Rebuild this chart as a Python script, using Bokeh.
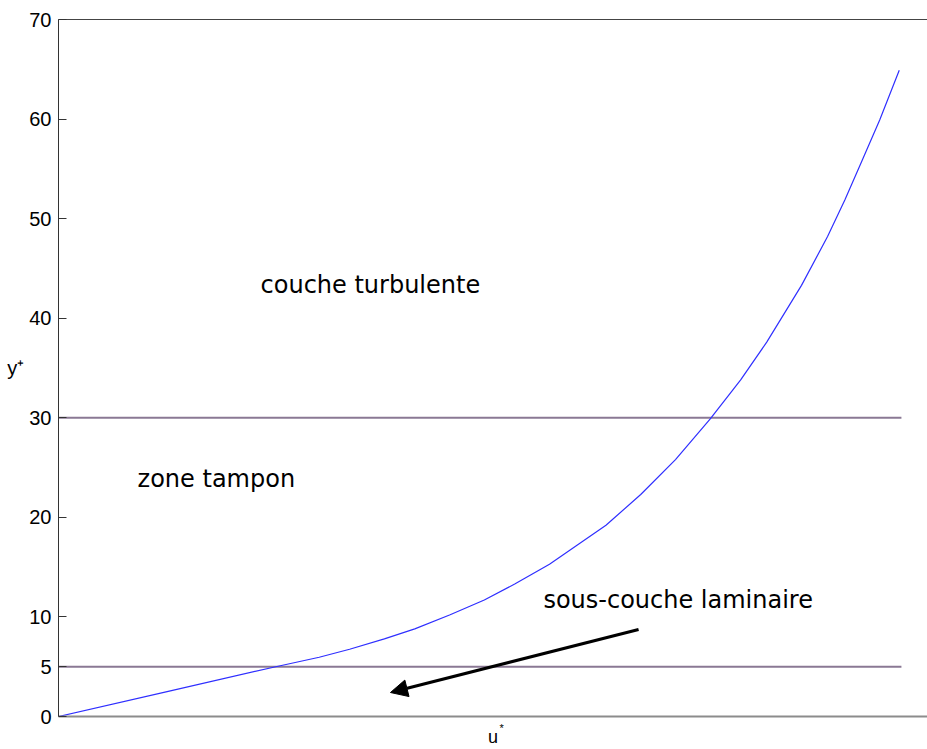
from bokeh.plotting import figure
from bokeh.models import (Range1d, FixedTicker, LinearAxis, Label, Arrow, NormalHead)
from bokeh.embed import file_html
from bokeh.resources import INLINE

# Curve (u*, y+)
u_vals = [0.0, 2.5, 5.0, 6.0, 6.7, 7.5, 8.2, 9.0, 9.8, 10.5, 11.3, 12.0, 12.6, 13.4, 14.2,
          15.0, 15.7, 16.3, 17.1, 17.7, 18.1, 18.5, 18.9, 19.35]
y_vals = [0.0, 2.5, 5.0, 5.95, 6.75, 7.8, 8.8, 10.2, 11.7, 13.3, 15.3, 17.4, 19.2, 22.3, 25.8,
          29.9, 33.8, 37.6, 43.3, 48.2, 51.9, 55.9, 59.9, 64.9]

# Horizontal zone limits
limits = [5, 30]
limit_u_end = 19.4

y_ticks = [0, 5, 10, 20, 30, 40, 50, 60, 70]

zone_labels = ["couche turbulente", "zone tampon", "sous-couche laminaire"]
zone_u = [4.65, 1.82, 11.16]
zone_y = [43.3, 23.9, 11.7]

arrow_start = (13.35, 8.74)
arrow_end = (7.64, 2.41)

star_u = 10.2

p = figure(width=927, height=749, output_backend="svg", toolbar_location=None,
           x_range=Range1d(0, 20), y_range=Range1d(0, 70),
           min_border_left=58, min_border_right=0, min_border_top=19, min_border_bottom=33,
           x_axis_type=None, y_axis_type=None)
p.outline_line_color = None
p.xgrid.visible = False
p.ygrid.visible = False
p.background_fill_color = "white"
p.border_fill_color = "white"

# left axis
yaxis = LinearAxis(ticker=FixedTicker(ticks=y_ticks))
yaxis.major_tick_in = 8
yaxis.major_tick_out = 0
yaxis.minor_tick_line_color = None
yaxis.axis_line_color = "#333333"
yaxis.major_tick_line_color = "#333333"
yaxis.major_label_text_font = "Liberation Sans"
yaxis.major_label_text_font_size = "20px"
yaxis.major_label_text_color = "black"
yaxis.major_label_standoff = 7
yaxis.axis_label = "y\u207a"
yaxis.axis_label_orientation = "horizontal"
yaxis.axis_label_text_font = "Liberation Sans"
yaxis.axis_label_text_font_style = "normal"
yaxis.axis_label_text_font_size = "20px"
yaxis.axis_label_text_color = "black"
yaxis.axis_label_standoff = 2
p.add_layout(yaxis, "left")

# bottom axis: no ticks, "u" label with superscript star
xaxis = LinearAxis(ticker=FixedTicker(ticks=[star_u]))
xaxis.axis_line_color = "#8c8c8c"
xaxis.axis_line_width = 2
xaxis.major_tick_line_color = None
xaxis.minor_tick_line_color = None
xaxis.major_tick_in = 0
xaxis.major_tick_out = 0
xaxis.major_label_overrides = {star_u: "*"}
xaxis.major_label_text_font = "Liberation Sans"
xaxis.major_label_text_font_size = "11px"
xaxis.major_label_text_color = "black"
xaxis.major_label_standoff = 5
xaxis.axis_label = "u"
xaxis.axis_label_text_font = "Liberation Sans"
xaxis.axis_label_text_font_style = "normal"
xaxis.axis_label_text_font_size = "18px"
xaxis.axis_label_text_color = "black"
xaxis.axis_label_standoff = -10
p.add_layout(xaxis, "below")

# top border line
top = LinearAxis(ticker=FixedTicker(ticks=[]))
top.axis_line_color = "#444444"
top.major_tick_line_color = None
top.minor_tick_line_color = None
top.major_label_text_font_size = "0px"
p.add_layout(top, "above")

# zone limits
for yl in limits:
    p.line([0, limit_u_end], [yl, yl], line_color="#8a7894", line_width=2)

# curve
p.line(u_vals, y_vals, line_color="#2f2fff", line_width=1.2)

# zone texts
for t, xu, yv in zip(zone_labels, zone_u, zone_y):
    p.add_layout(Label(x=xu, y=yv, text=t, text_font="DejaVu Sans", text_font_size="24px",
                       text_baseline="middle", text_align="left", text_color="black"))

p.add_layout(Arrow(x_start=arrow_start[0], y_start=arrow_start[1], x_end=arrow_end[0], y_end=arrow_end[1],
                   line_width=3, line_color="black",
                   end=NormalHead(size=17, fill_color="black", line_color="black", line_width=1)))

open("out.html", "w").write(file_html(p, INLINE))
